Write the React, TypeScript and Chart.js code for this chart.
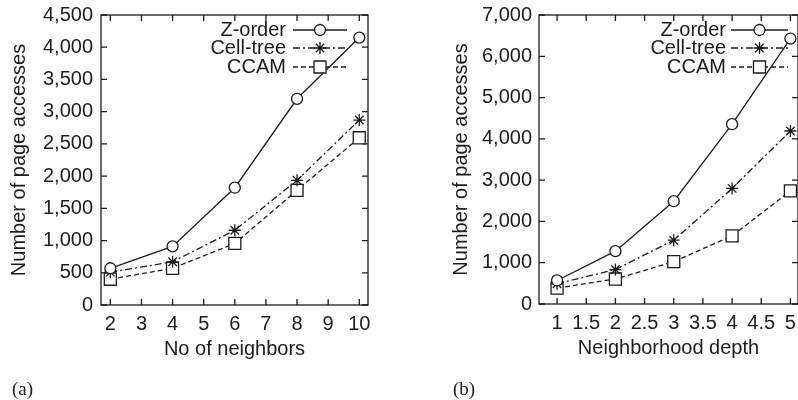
import React, { useEffect, useRef } from 'react';
import { Chart, registerables } from 'chart.js';

Chart.register(...registerables);

const seriesNames = ['Z-order', 'Cell-tree', 'CCAM'];

const neighborsX = [2, 4, 6, 8, 10];
const neighborsZOrder = [570, 910, 1820, 3200, 4150];
const neighborsCellTree = [510, 670, 1160, 1935, 2870];
const neighborsCCAM = [400, 570, 955, 1780, 2595];

const depthX = [1, 2, 3, 4, 5];
const depthZOrder = [570, 1280, 2490, 4355, 6430];
const depthCellTree = [490, 835, 1545, 2800, 4190];
const depthCCAM = [385, 605, 1025, 1650, 2740];

const INK = '#1c1c1c';
const FONT = 'Liberation Sans, Arial, Helvetica, sans-serif';
const FS = 20;

const pointStyles = ['circle', 'star', 'rect'];
const pointRadii = [5.5, 6, 8.5];
const dashes: number[][] = [[], [7, 3, 2, 3], [5, 3]];

const framePlugin = {
  id: 'frameTicks',
  beforeDatasetsDraw(chart: any) {
    const { ctx, chartArea: a, scales } = chart;
    ctx.save();
    ctx.strokeStyle = INK;
    ctx.lineWidth = 1.3;
    ctx.setLineDash([]);
    ctx.strokeRect(a.left, a.top, a.right - a.left, a.bottom - a.top);
    const L = 6;
    ctx.beginPath();
    scales.x.ticks.forEach((t: any) => {
      const px = scales.x.getPixelForValue(t.value);
      ctx.moveTo(px, a.bottom);
      ctx.lineTo(px, a.bottom - L);
      ctx.moveTo(px, a.top);
      ctx.lineTo(px, a.top + L);
    });
    scales.y.ticks.forEach((t: any) => {
      const py = scales.y.getPixelForValue(t.value);
      ctx.moveTo(a.left, py);
      ctx.lineTo(a.left + L, py);
      ctx.moveTo(a.right, py);
      ctx.lineTo(a.right - L, py);
    });
    ctx.stroke();
    ctx.restore();
  },
};

function drawMarker(ctx: any, style: string, x: number, y: number, r: number) {
  ctx.beginPath();
  if (style === 'circle') {
    ctx.arc(x, y, r, 0, Math.PI * 2);
    ctx.fillStyle = '#fff';
    ctx.fill();
    ctx.stroke();
  } else if (style === 'rect') {
    const s = r * Math.SQRT1_2;
    ctx.rect(x - s, y - s, 2 * s, 2 * s);
    ctx.fillStyle = '#fff';
    ctx.fill();
    ctx.stroke();
  } else {
    for (let k = 0; k < 4; k++) {
      const ang = (k * Math.PI) / 4;
      ctx.moveTo(x - Math.cos(ang) * r, y - Math.sin(ang) * r);
      ctx.lineTo(x + Math.cos(ang) * r, y + Math.sin(ang) * r);
    }
    ctx.stroke();
  }
}

const legendPlugin = {
  id: 'innerLegend',
  afterDraw(chart: any) {
    const o = chart.options.plugins.innerLegend;
    if (!o) return;
    const { ctx, chartArea: a } = chart;
    ctx.save();
    ctx.font = `${FS}px ${FONT}`;
    ctx.textAlign = 'right';
    ctx.textBaseline = 'middle';
    chart.data.datasets.forEach((ds: any, i: number) => {
      const y = a.top + o.rows[i];
      ctx.fillStyle = INK;
      ctx.fillText(ds.label, a.right - o.textRight, y);
      ctx.strokeStyle = INK;
      ctx.lineWidth = 1.3;
      ctx.setLineDash(dashes[i]);
      ctx.beginPath();
      ctx.moveTo(a.right - o.lineStart, y);
      ctx.lineTo(a.right - o.lineEnd, y);
      ctx.stroke();
      ctx.setLineDash([]);
      drawMarker(ctx, pointStyles[i], a.right - (o.lineStart + o.lineEnd) / 2, y, pointRadii[i]);
    });
    ctx.restore();
  },
};

function buildConfig(p: any) {
  return {
    type: 'line',
    data: {
      datasets: p.series.map((vals: number[], i: number) => ({
        label: seriesNames[i],
        data: p.xs.map((x: number, j: number) => ({ x, y: vals[j] })),
        borderColor: INK,
        borderWidth: 1.3,
        borderDash: dashes[i],
        pointStyle: pointStyles[i],
        pointRadius: pointRadii[i],
        pointBorderColor: INK,
        pointBorderWidth: 1.3,
        pointBackgroundColor: '#fff',
        tension: 0,
        clip: false,
      })),
    },
    options: {
      animation: false,
      responsive: false,
      layout: { padding: p.padding },
      plugins: {
        legend: { display: false },
        tooltip: { enabled: false },
        innerLegend: p.legend,
      },
      scales: {
        x: {
          type: 'linear',
          min: p.xMin,
          max: p.xMax,
          ticks: {
            stepSize: p.xStep,
            includeBounds: false,
            padding: 7,
            color: INK,
            font: { family: FONT, size: FS },
            maxRotation: 0,
            autoSkip: false,
            callback: (v: number) => String(Math.round(v * 10) / 10),
          },
          grid: { display: false, drawTicks: false },
          border: { display: false },
          title: {
            display: true,
            text: p.xTitle,
            color: INK,
            font: { family: FONT, size: FS },
            padding: { top: 0, bottom: p.xTitlePad },
          },
          afterFit: (s: any) => {
            s.height = p.xHeight;
            s.paddingLeft = 0;
            s.paddingRight = 0;
          },
        },
        y: {
          type: 'linear',
          min: 0,
          max: p.yMax,
          ticks: {
            stepSize: p.yStep,
            padding: p.yTickPad,
            color: INK,
            font: { family: FONT, size: FS },
            callback: (v: number) => v.toLocaleString('en-US'),
          },
          grid: { display: false, drawTicks: false },
          border: { display: false },
          title: {
            display: true,
            text: 'Number of page accesses',
            color: INK,
            font: { family: FONT, size: FS },
            padding: { top: p.yTitlePad, bottom: 0 },
          },
          afterFit: (s: any) => {
            s.width = p.yWidth;
            s.paddingTop = 0;
            s.paddingBottom = 0;
          },
        },
      },
    },
    plugins: [framePlugin, legendPlugin],
  };
}

function Panel({ config, left, width, height }: any) {
  const ref = useRef<HTMLCanvasElement>(null);
  useEffect(() => {
    const chart = new Chart(ref.current as HTMLCanvasElement, config as any);
    return () => chart.destroy();
  }, []);
  return (
    <canvas
      ref={ref}
      width={width}
      height={height}
      style={{ position: 'absolute', left, top: 0, width, height }}
    />
  );
}

const leftConfig = buildConfig({
  xs: neighborsX,
  series: [neighborsZOrder, neighborsCellTree, neighborsCCAM],
  xMin: 1.7,
  xMax: 10.28,
  xStep: 1,
  yMax: 4500,
  yStep: 500,
  xTitle: 'No of neighbors',
  padding: { left: 0, top: 15, right: 32, bottom: 0 },
  yWidth: 101,
  xHeight: 95,
  yTickPad: 8,
  yTitlePad: 7,
  xTitlePad: 39,
  legend: { textRight: 82, lineStart: 75, lineEnd: 21, rows: [15, 33, 52] },
});

const rightConfig = buildConfig({
  xs: depthX,
  series: [depthZOrder, depthCellTree, depthCCAM],
  xMin: 0.69,
  xMax: 5.13,
  xStep: 0.5,
  yMax: 7000,
  yStep: 1000,
  xTitle: 'Neighborhood depth',
  padding: { left: 0, top: 15, right: 10, bottom: 0 },
  yWidth: 99,
  xHeight: 96,
  yTickPad: 7,
  yTitlePad: 9,
  xTitlePad: 40,
  legend: { textRight: 72, lineStart: 67, lineEnd: 10, rows: [15, 33, 52] },
});

export default function App() {
  const labelStyle: any = {
    position: 'absolute',
    top: 379,
    fontFamily: 'Liberation Serif, Times New Roman, serif',
    fontSize: 19,
    color: '#222',
    lineHeight: '20px',
  };
  return (
    <div style={{ position: 'absolute', left: 0, top: 0, width: 798, height: 400, background: '#fff', overflow: 'hidden' }}>
      <Panel config={leftConfig} left={0} width={400} height={400} />
      <Panel config={rightConfig} left={440} width={368} height={400} />
      <span style={{ ...labelStyle, left: 12 }}>(a)</span>
      <span style={{ ...labelStyle, left: 453 }}>(b)</span>
    </div>
  );
}
